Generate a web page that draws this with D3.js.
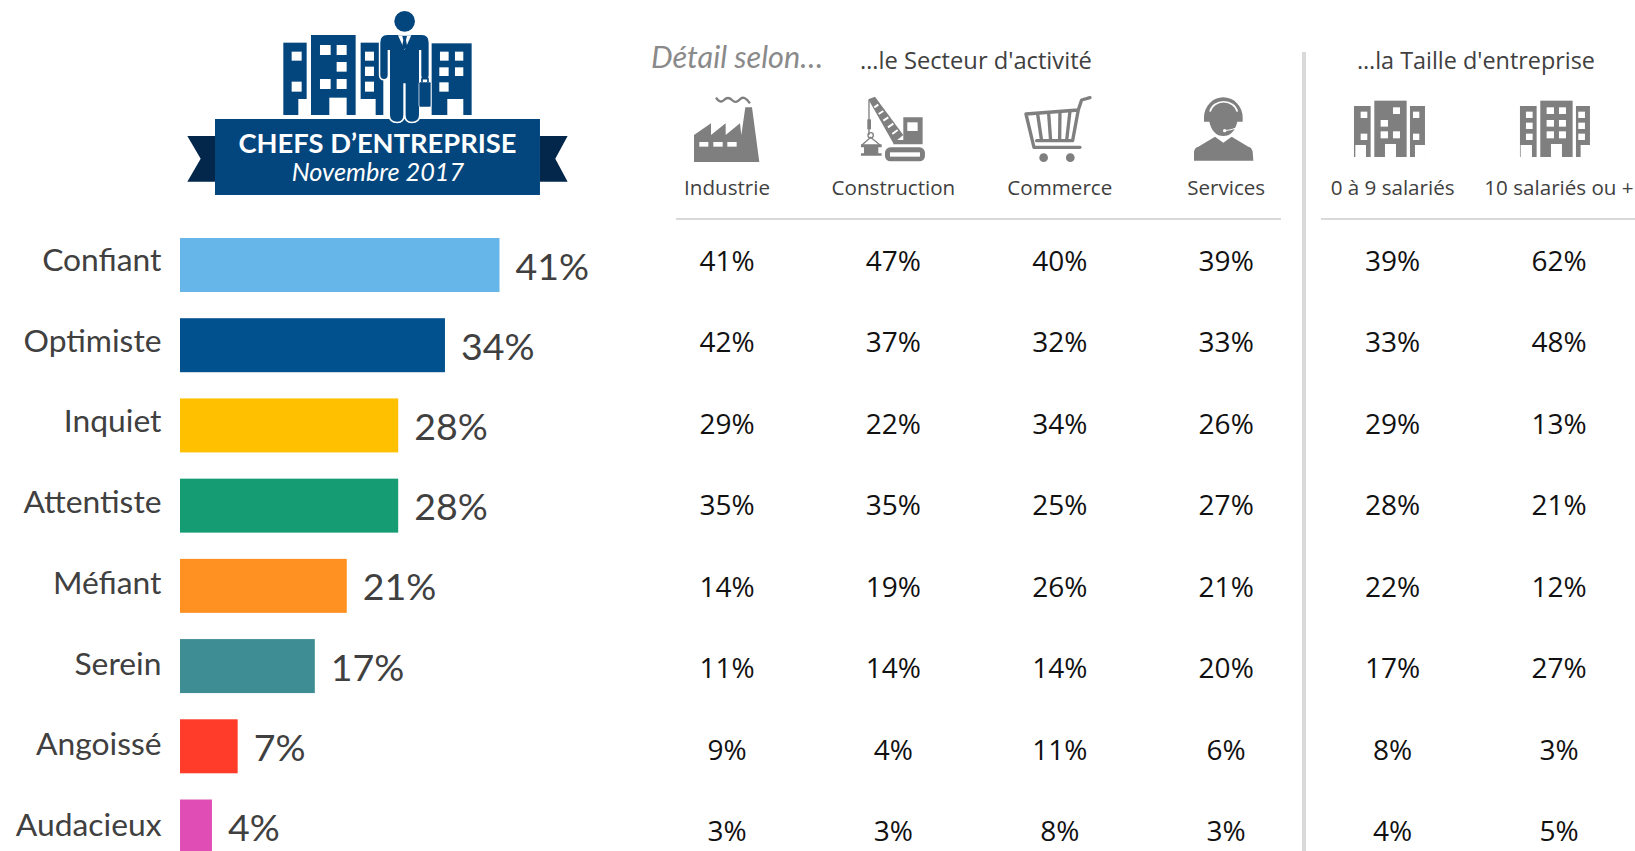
<!DOCTYPE html>
<html>
<head>
<meta charset="utf-8">
<script src="https://cdnjs.cloudflare.com/ajax/libs/d3/7.8.5/d3.min.js"></script>
<style>
  html, body { margin: 0; padding: 0; background: #fff; overflow: hidden; }
  svg { display: block; }
  .lab { font-family: Lato, sans-serif; fill: #404040; }
  .cell { font-family: "Open Sans", sans-serif; fill: #111; }
  .head { font-family: "Open Sans", sans-serif; fill: #404040; }
</style>
</head>
<body>
<div id="chart"></div>
<script>
// etats d'esprit
const categories = ['Confiant', 'Optimiste', 'Inquiet', 'Attentiste', 'Méfiant', 'Serein', 'Angoissé', 'Audacieux'];
// longueurs, l'etiquette affiche la valeur arrondie
const total = [41, 34, 28, 28, 21.4, 17.3, 7.4, 4.1];
const barColors = ['#67b6e9', '#00518e', '#ffc000', '#169c72', '#ff9022', '#3e8d94', '#ff3b29', '#e04db4'];

// colonnes du detail
const columns = ['Industrie', 'Construction', 'Commerce', 'Services', '0 à 9 salariés', '10 salariés ou +'];
const industrie = [41, 42, 29, 35, 14, 11, 9, 3];
const construction = [47, 37, 22, 35, 19, 14, 4, 3];
const commerce = [40, 32, 34, 25, 26, 14, 11, 8];
const services = [39, 33, 26, 27, 21, 20, 6, 3];
const petites = [39, 33, 29, 28, 22, 17, 8, 4];
const grandes = [62, 48, 13, 21, 12, 27, 3, 5];
const detail = [industrie, construction, commerce, services, petites, grandes];

const W = 1635, H = 851;
const NAVY = '#03467d', DARK = '#02274a', GREY = '#7f7f7f';

let svg = d3.select('#chart').append('svg').attr('width', W).attr('height', H);

//echelles
let xScale = d3.scaleLinear().domain([0, 41]).range([180, 499.5]);
let yScale = d3.scaleBand().domain(categories).range([238, 853.5]).paddingInner(0.327).paddingOuter(0);
let labelScale = d3.scalePoint().domain(categories).range([271, 836]);
let colScale = d3.scalePoint().domain(columns).range([727, 1559]);
let rowScale = d3.scalePoint().domain(categories).range([261, 831]);

//barres
svg.append('g').selectAll('rect')
    .data(total)
    .enter()
    .append('rect')
    .attr('x', xScale(0))
    .attr('y', (d, i) => yScale(categories[i]))
    .attr('width', d => xScale(d) - xScale(0))
    .attr('height', yScale.bandwidth())
    .attr('fill', (d, i) => barColors[i]);

//libelles
svg.append('g').selectAll('text')
    .data(categories)
    .enter()
    .append('text')
    .attr('class', 'lab')
    .attr('x', 161.5)
    .attr('y', d => labelScale(d))
    .attr('text-anchor', 'end')
    .attr('font-size', 31.8)
    .text(d => d);

//valeurs
svg.append('g').selectAll('text')
    .data(total)
    .enter()
    .append('text')
    .attr('class', 'lab')
    .attr('x', d => xScale(d) + 16)
    .attr('y', (d, i) => yScale(categories[i]) + 41.5)
    .attr('font-size', 37.5)
    .text(d => Math.round(d) + '%');

//tableau
detail.forEach(function (col, c) {
    svg.append('g').selectAll('text')
        .data(col)
        .enter()
        .append('text')
        .attr('class', 'cell')
        .attr('x', colScale(columns[c]))
        .attr('y', (d, i) => rowScale(categories[i]) + 10)
        .attr('text-anchor', 'middle')
        .attr('font-size', 28)
        .text(d => d + '%');
});

//entetes
svg.append('g').selectAll('text')
    .data(columns)
    .enter()
    .append('text')
    .attr('class', 'head')
    .attr('x', d => colScale(d))
    .attr('y', 195)
    .attr('text-anchor', 'middle')
    .attr('font-size', 20.6)
    .text(d => d);

svg.append('text').attr('class', 'head').attr('x', 976).attr('y', 69)
    .attr('text-anchor', 'middle').attr('font-size', 23.7).text("…le Secteur d'activité");
svg.append('text').attr('class', 'head').attr('x', 1476).attr('y', 69)
    .attr('text-anchor', 'middle').attr('font-size', 23.4).text("…la Taille d'entreprise");
svg.append('text').attr('x', 737).attr('y', 68)
    .attr('text-anchor', 'middle').attr('font-family', 'Lato, sans-serif').attr('font-style', 'italic')
    .attr('font-size', 30.6).attr('fill', '#8a8a8a').text('Détail selon…');

//filets
let rules = svg.append('g').attr('stroke', '#d9d9d9');
rules.append('line').attr('x1', 676).attr('x2', 1281).attr('y1', 219).attr('y2', 219).attr('stroke-width', 2);
rules.append('line').attr('x1', 1321).attr('x2', 1635).attr('y1', 219).attr('y2', 219).attr('stroke-width', 2);
rules.append('line').attr('x1', 1304).attr('x2', 1304).attr('y1', 52).attr('y2', 851).attr('stroke-width', 4);

// petit utilitaire pour les fenetres
function boxes(g, list, fill) {
    g.selectAll(null).data(list).enter().append('rect')
        .attr('x', d => d[0]).attr('y', d => d[1])
        .attr('width', d => d[2] - d[0]).attr('height', d => d[3] - d[1])
        .attr('fill', fill);
}

//logo
let logo = svg.append('g').attr('transform', 'translate(170,0) scale(0.3333)');
boxes(logo, [[340, 128, 410, 345], [423, 105, 557, 345], [572, 128, 640, 345], [785, 130, 905, 345]], NAVY);
boxes(logo, [
    [365, 155, 395, 182], [365, 245, 395, 275], [385, 297, 412, 347],
    [450, 135, 482, 165], [500, 135, 530, 165], [500, 186, 530, 215], [450, 237, 482, 267], [500, 237, 530, 267], [478, 293, 530, 347],
    [585, 155, 612, 182], [585, 200, 612, 228], [585, 245, 612, 275], [570, 297, 617, 347],
    [810, 155, 836, 182], [855, 155, 880, 182], [808, 202, 836, 228], [855, 202, 880, 228], [808, 247, 836, 275], [832, 297, 880, 347]
], '#fff');
logo.append('rect').attr('x', 135).attr('y', 357).attr('width', 975).attr('height', 228).attr('fill', NAVY);
logo.append('path').attr('fill', DARK).attr('d', 'M135,408 L52,408 L92,476 L52,545 L135,545 Z');
logo.append('path').attr('fill', DARK).attr('d', 'M1110,408 L1193,408 L1156,476 L1193,545 L1110,545 Z');
// le personnage, avec son liseré blanc
let manPath = 'M652,105 L756,105 Q776,105 776,128 L776,225 Q776,237 765,237 Q754,237 754,225 L754,150 L747,150 L747,345 Q747,365 725,365 Q707,365 707,345 L707,250 L700,250 L700,345 Q700,365 682,365 Q660,365 660,345 L660,150 L653,150 L653,225 Q653,237 642,237 Q631,237 631,225 L631,128 Q631,105 652,105 Z';
logo.append('path').attr('d', manPath).attr('fill', NAVY).attr('stroke', '#fff').attr('stroke-width', 9).attr('paint-order', 'stroke');
logo.append('circle').attr('cx', 704).attr('cy', 64).attr('r', 31).attr('fill', NAVY);
logo.append('path').attr('fill', '#fff').attr('d', 'M684,106 L724,106 L704,150 Z');
logo.append('path').attr('fill', NAVY).attr('d', 'M697,108 L711,108 L708,120 L712,140 L704,148 L696,140 L700,120 Z');
logo.append('rect').attr('x', 748).attr('y', 247).attr('width', 34).attr('height', 73).attr('rx', 3).attr('fill', NAVY).attr('stroke', '#fff').attr('stroke-width', 4).attr('paint-order', 'stroke');
logo.append('path').attr('fill', 'none').attr('stroke', NAVY).attr('stroke-width', 5).attr('d', 'M756,247 L756,236 L774,236 L774,247');

svg.append('text').attr('x', 377.5).attr('y', 153).attr('text-anchor', 'middle')
    .attr('font-family', 'Lato, sans-serif').attr('font-weight', 700).attr('font-size', 27.3).attr('fill', '#fff')
    .text('CHEFS D’ENTREPRISE');
svg.append('text').attr('x', 378).attr('y', 181).attr('text-anchor', 'middle')
    .attr('font-family', 'Lato, sans-serif').attr('font-style', 'italic').attr('font-size', 25.3).attr('fill', '#fff')
    .text('Novembre 2017');

//icones
let ic1 = svg.append('g').attr('transform', 'translate(640,30) scale(0.3333)').attr('fill', GREY);
// usine
ic1.append('path').attr('d', 'M162,396 L162,315 L213,280 L213,315 L257,280 L257,315 L300,280 L304,315 L316,232 L336,232 L358,396 Z');
boxes(ic1, [[178, 336, 205, 350], [220, 336, 248, 350], [262, 336, 290, 350]], '#fff');
ic1.append('path').attr('fill', 'none').attr('stroke', GREY).attr('stroke-width', 7)
    .attr('d', 'M228,203 Q240,222 252,210 T276,210 T300,208 T330,220');
// grue
ic1.append('path').attr('d', 'M790,262 L848,262 L848,343 L760,343 L760,330 L790,330 Z');
ic1.append('rect').attr('x', 802).attr('y', 277).attr('width', 31).attr('height', 26).attr('fill', '#fff');
ic1.append('path').attr('d', 'M685,208 L705,200 L790,315 L760,340 Z');
[[703, 232, 715, 224], [716, 252, 730, 243], [730, 272, 745, 262], [744, 292, 760, 281], [757, 312, 773, 300]].forEach(function (s) {
    ic1.append('line').attr('x1', s[0]).attr('y1', s[1]).attr('x2', s[2]).attr('y2', s[3]).attr('stroke', '#fff').attr('stroke-width', 6);
});
ic1.append('rect').attr('x', 735).attr('y', 352).attr('width', 120).attr('height', 42).attr('rx', 16);
ic1.append('rect').attr('x', 750).attr('y', 367).attr('width', 90).attr('height', 13).attr('fill', '#fff');
ic1.append('path').attr('fill', 'none').attr('stroke', GREY).attr('stroke-width', 4).attr('d', 'M687,210 L687,315');
ic1.append('rect').attr('x', 682).attr('y', 268).attr('width', 11).attr('height', 30);
ic1.append('circle').attr('cx', 692).attr('cy', 316).attr('r', 8).attr('fill', 'none').attr('stroke', GREY).attr('stroke-width', 4);
ic1.append('path').attr('fill', 'none').attr('stroke', GREY).attr('stroke-width', 4).attr('d', 'M666,345 L692,322 L720,345');
ic1.append('path').attr('d', 'M663,343 L725,343 L725,352 L715,352 L715,370 L725,370 L725,377 L663,377 L663,370 L672,370 L672,352 L663,352 Z');
// chariot
ic1.append('path').attr('fill', 'none').attr('stroke', GREY).attr('stroke-width', 10).attr('stroke-linejoin', 'round').attr('stroke-linecap', 'round')
    .attr('d', 'M1350,203 L1325,210 L1315,240 L1158,252 L1182,352 L1320,352 M1315,240 L1298,332 L1190,332');
[[1193, 252, 1205, 332], [1226, 249, 1232, 332], [1260, 246, 1259, 332], [1290, 244, 1280, 332]].forEach(function (s) {
    ic1.append('line').attr('x1', s[0]).attr('y1', s[1]).attr('x2', s[2]).attr('y2', s[3]).attr('stroke', GREY).attr('stroke-width', 10);
});
ic1.selectAll(null).data([1211, 1291]).enter().append('circle').attr('cx', d => d).attr('cy', 383).attr('r', 13);

let ic2 = svg.append('g').attr('transform', 'translate(1130,30) scale(0.3333)').attr('fill', GREY);
// standardiste
ic2.append('path').attr('d', 'M222,275 L222,262 A58,60 0 0 1 338,262 L338,275 L322,275 Q312,318 280,318 Q248,318 238,275 Z');
ic2.append('path').attr('fill', 'none').attr('stroke', '#fff').attr('stroke-width', 5).attr('d', 'M240,245 A42,38 0 0 1 322,245');
ic2.append('path').attr('fill', 'none').attr('stroke', '#fff').attr('stroke-width', 3).attr('d', 'M325,290 Q310,300 282,302');
ic2.append('circle').attr('cx', 284).attr('cy', 302).attr('r', 5).attr('fill', '#fff');
ic2.append('path').attr('d', 'M192,392 L192,365 Q195,352 205,350 L255,320 L280,338 L305,320 L355,350 Q365,352 368,365 L370,392 Z');
// immeubles
boxes(ic2, [[672, 228, 722, 381], [733, 212, 830, 381], [840, 228, 885, 381]], GREY);
boxes(ic2, [
    [692, 245, 712, 264], [692, 311, 712, 330], [676, 345, 708, 383],
    [789, 232, 810, 252], [752, 270, 774, 290], [752, 304, 774, 325], [789, 304, 810, 325], [765, 342, 798, 383],
    [849, 245, 868, 264], [849, 311, 868, 330], [855, 345, 885, 383]
], '#fff');
boxes(ic2, [[1170, 228, 1220, 381], [1231, 212, 1328, 381], [1338, 228, 1380, 381]], GREY);
boxes(ic2, [
    [1188, 245, 1208, 264], [1188, 278, 1208, 297], [1188, 311, 1208, 330], [1172, 345, 1206, 383],
    [1250, 232, 1272, 252], [1287, 232, 1308, 252], [1250, 270, 1272, 290], [1287, 270, 1308, 290], [1250, 304, 1272, 325], [1287, 304, 1308, 325], [1263, 342, 1296, 383],
    [1345, 245, 1365, 264], [1345, 278, 1365, 297], [1345, 311, 1365, 330], [1352, 345, 1382, 383]
], '#fff');
</script>
</body>
</html>
